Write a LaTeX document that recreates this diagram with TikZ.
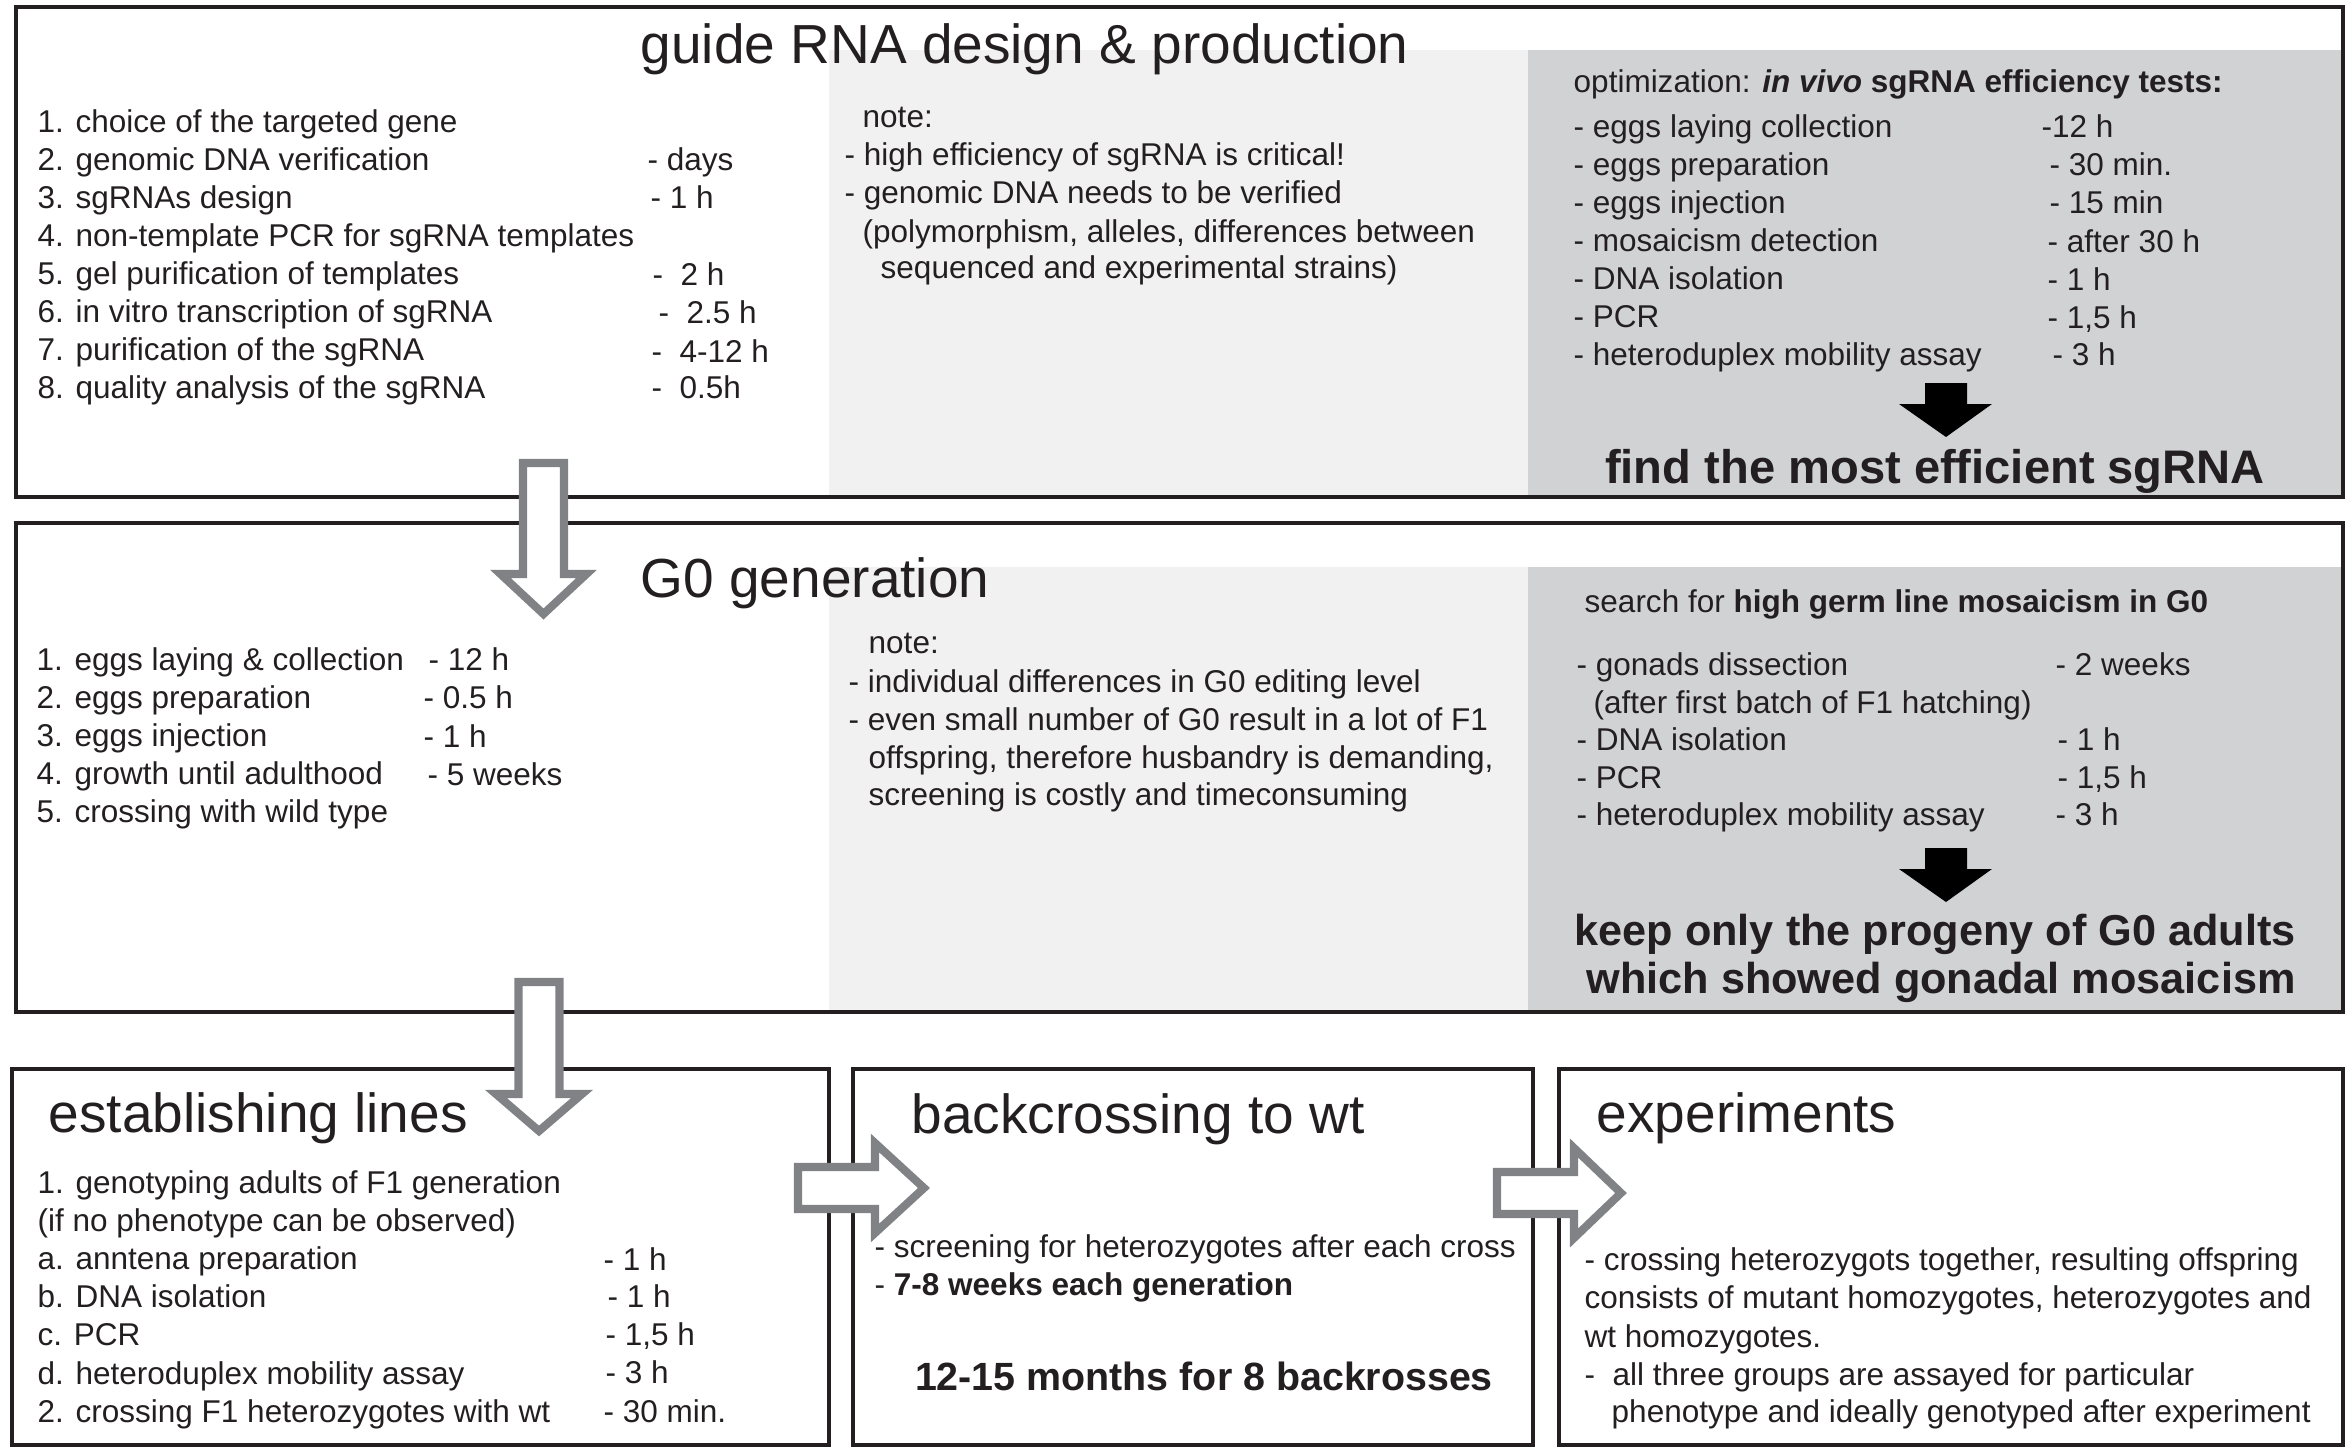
\documentclass[tikz,border=0pt]{standalone}
\usepackage{fontspec}
\setmainfont{Liberation Sans}
\usetikzlibrary{calc}

\definecolor{ink}{HTML}{231F20}
\definecolor{notegray}{HTML}{F1F1F2}
\definecolor{testgray}{HTML}{D1D2D4}
\definecolor{flowgray}{HTML}{808285}

\tikzset{
    frame/.style={draw=ink, line width=1.15pt},
    txt/.style={anchor=base west, inner sep=0pt, text=ink, font=\fontsize{8.96pt}{10.8pt}\selectfont},
    heading/.style={anchor=base west, inner sep=0pt, text=ink, font=\fontsize{15.65pt}{18pt}\selectfont},
    result/.style={anchor=base, inner sep=0pt, text=ink, font=\bfseries\fontsize{#1pt}{#1pt}\selectfont},
    hollow/.style={draw=flowgray, fill=white, line width=2.3pt, miter limit=10},
}

\begin{document}
\begin{tikzpicture}[x=0.01cm, y=-0.01cm]
            \useasboundingbox (0,0) rectangle (2350,1454);

            \fill[notegray] (829,50) rectangle (1528,496);
            \fill[testgray] (1528,50) rectangle (2342,496);
            \fill[notegray] (829,567) rectangle (1528,1011);
            \fill[testgray] (1528,567) rectangle (2342,1011);

            \draw[frame] (16,7) rectangle (2343,497);
            \draw[frame] (16,523) rectangle (2343,1012);
            \draw[frame] (12,1069) rectangle (829,1445);
            \draw[frame] (853,1069) rectangle (1533,1445);
            \draw[frame] (1559,1069) rectangle (2343,1445);

            \node[heading] (design) at (640,63) {guide RNA design \& production};
            \node[heading] (gzero) at (640,597) {G0 generation};
            \node[heading] (lines) at (48,1132) {establishing lines};
            \node[heading] (backcross) at (911,1133) {backcrossing to wt};
            \node[heading] (exper) at (1596,1132) {experiments};

            \foreach \t [count=\i] in {1. choice of the targeted gene, 2. genomic DNA verification,
                3. sgRNAs design, 4. non-template PCR for sgRNA templates,
                5. gel purification of templates, 6. in vitro transcription of sgRNA,
                7. purification of the sgRNA, 8. quality analysis of the sgRNA}
                {
                    \node[txt] (step\i) at (37,{132+38*(\i-1)}) {\t};
                }
            \foreach \x/\y/\t [count=\i] in {647/170/- days, 650/208/- 1 h, 652/285/-\ \ 2 h,
                658/323/-\ \ 2.5 h, 651/362/-\ \ 4-12 h, 651/398/-\ \ 0.5h}
                {
                    \node[txt] (steptime\i) at (\x,\y) {\t};
                }

            \node[txt] (note1) at (862,127) {note:};
            \node[txt] (note1a) at (844,165) {- high efficiency of sgRNA is critical!};
            \node[txt] (note1b) at (844,203) {- genomic DNA needs to be verified};
            \node[txt] (note1c) at (862,242) {(polymorphism, alleles, differences between};
            \node[txt] (note1d) at (880,278) {sequenced and experimental strains)};

            \node[txt] (opt) at (1573,92) {optimization: \textbf{\textit{in vivo} sgRNA efficiency tests:}};
            \foreach \t [count=\i] in {- eggs laying collection, - eggs preparation, - eggs injection,
                - mosaicism detection, - DNA isolation, - PCR, - heteroduplex mobility assay}
                {
                    \node[txt] (test\i) at (1573,{137+38*(\i-1)}) {\t};
                }
            \foreach \x/\y/\t [count=\i] in {2041/137/-12 h, 2049/175/- 30 min., 2049/213/- 15 min,
                2047/252/- after 30 h, 2047/290/- 1 h, 2047/328/{- 1,5 h}, 2052/365/- 3 h}
                {
                    \node[txt] (testtime\i) at (\x,\y) {\t};
                }
            \node[result=13.4] (best) at (1935,483) {find the most efficient sgRNA};

            \foreach \t [count=\i] in {1. eggs laying \& collection, 2. eggs preparation,
                3. eggs injection, 4. growth until adulthood, 5. crossing with wild type}
                {
                    \node[txt] (egg\i) at (36,{670+38.2*(\i-1)}) {\t};
                }
            \node[txt] (eggtime1) at (428,670) {- 12 h};
            \node[txt] (eggtime2) at (423,708) {- 0.5 h};
            \node[txt] (eggtime3) at (423,747) {- 1 h};
            \node[txt] (eggtime4) at (427,785) {- 5 weeks};

            \node[txt] (note2) at (868,653) {note:};
            \node[txt] (note2a) at (848,692) {- individual differences in G0 editing level};
            \node[txt] (note2b) at (848,730) {- even small number of G0 result in a lot of F1};
            \node[txt] (note2c) at (868,768) {offspring, therefore husbandry is demanding,};
            \node[txt] (note2d) at (868,805) {screening is costly and timeconsuming};

            \node[txt] (search) at (1584,612) {search for \textbf{high germ line mosaicism in G0}};
            \node[txt] (gonad1) at (1576,675) {- gonads dissection};
            \node[txt] (gonad2) at (1593,713) {(after first batch of F1 hatching)};
            \node[txt] (gonad3) at (1576,750) {- DNA isolation};
            \node[txt] (gonad4) at (1576,788) {- PCR};
            \node[txt] (gonad5) at (1576,825) {- heteroduplex mobility assay};
            \node[txt] (gonadtime1) at (2055,675) {- 2 weeks};
            \node[txt] (gonadtime3) at (2057,750) {- 1 h};
            \node[txt] (gonadtime4) at (2057,788) {- 1,5 h};
            \node[txt] (gonadtime5) at (2055,825) {- 3 h};
            \node[result=12.3] (keep1) at (1935,945) {keep only the progeny of G0 adults};
            \node[result=12.3] (keep2) at (1941,993) {which showed gonadal mosaicism};

            \foreach \t [count=\i] in {1. genotyping adults of F1 generation, (if no phenotype can be observed),
                a. anntena preparation, b. DNA isolation, c. PCR, d. heteroduplex mobility assay,
                2. crossing F1 heterozygotes with wt}
                {
                    \node[txt] (geno\i) at (37,{1193+38.2*(\i-1)}) {\t};
                }
            \foreach \x/\y/\t [count=\i] in {603/1270/- 1 h, 607/1307/- 1 h, 605/1345/{- 1,5 h},
                605/1383/- 3 h, 603/1422/- 30 min.}
                {
                    \node[txt] (genotime\i) at (\x,\y) {\t};
                }

            \node[txt] (screen1) at (874,1257) {- screening for heterozygotes after each cross};
            \node[txt] (screen2) at (874,1295) {- \textbf{7-8 weeks each generation}};
            \node[result=11.2] (months) at (1204,1390) {12-15 months for 8 backrosses};

            \node[txt] (exp1) at (1584,1270) {- crossing heterozygots together, resulting offspring};
            \node[txt] (exp2) at (1584,1308) {consists of mutant homozygotes, heterozygotes and};
            \node[txt] (exp3) at (1584,1347) {wt homozygotes.};
            \node[txt] (exp4) at (1584,1385) {-\ \ all three groups are assayed for particular};
            \node[txt] (exp5) at (1611,1422) {phenotype and ideally genotyped after experiment};

            \foreach \top in {383, 848}
                {
                    \fill[black] (1925,\top) -- (1967,\top) -- (1967,\top+21) -- (1992,\top+21)
                        -- (1946,\top+54) -- (1899,\top+21) -- (1925,\top+21) -- cycle;
                }

            \foreach \cx/\top/\neck/\tip in {543.5/463/574/614, 539/982/1094/1131}
                {
                    \draw[hollow] (\cx-20.5,\top) -- (\cx+20.5,\top) -- (\cx+20.5,\neck) -- (\cx+43,\neck)
                        -- (\cx,\tip) -- (\cx-43,\neck) -- (\cx-20.5,\neck) -- cycle;
                }
            \foreach \left/\cy/\neck/\tip in {798/1188/875/924, 1497/1193/1574/1621}
                {
                    \draw[hollow] (\left,\cy-21) -- (\neck,\cy-21) -- (\neck,\cy-45) -- (\tip,\cy)
                        -- (\neck,\cy+45) -- (\neck,\cy+21) -- (\left,\cy+21) -- cycle;
                }

        \end{tikzpicture}
\end{document}
